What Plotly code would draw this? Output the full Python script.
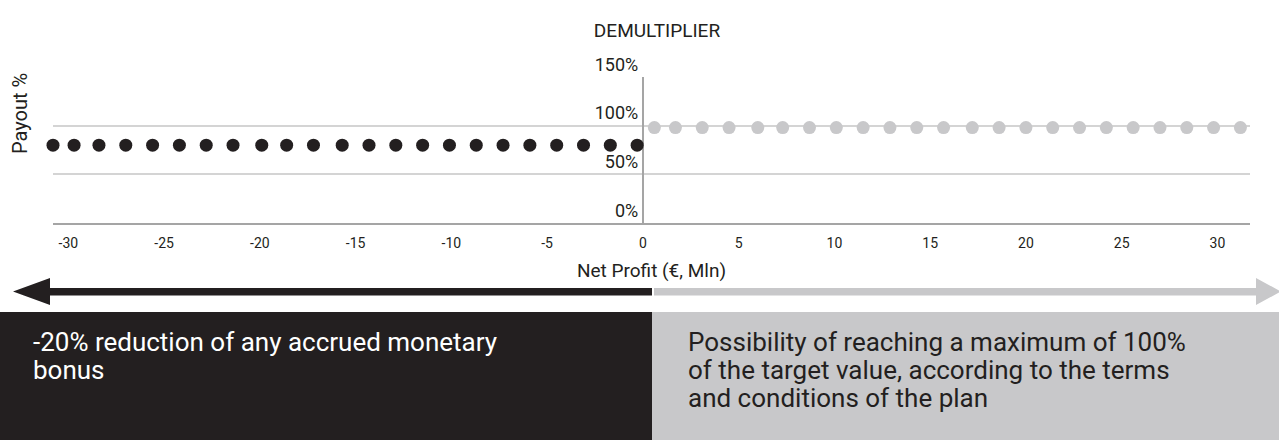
import plotly.graph_objects as go

# ---- data ----
neg_x = [-30.8, -29.7, -28.4, -27.0, -25.6, -24.2, -22.8, -21.4, -19.9, -18.6, -17.2, -15.7,
         -14.3, -12.9, -11.5, -10.1, -8.7, -7.3, -5.9, -4.5, -3.1, -1.7, -0.3]
neg_y = [80] * len(neg_x)
pos_x = [0.6, 1.7, 3.1, 4.5, 6.0, 7.3, 8.7, 10.1, 11.5, 12.9, 14.3, 15.7, 17.2, 18.6, 20.0,
         21.4, 22.8, 24.2, 25.6, 27.0, 28.4, 29.8, 31.2]
pos_y = [98] * len(pos_x)
x_ticks = [-30, -25, -20, -15, -10, -5, 0, 5, 10, 15, 20, 25, 30]
x_ticktext = ["-30", "-25", "-20", "-15", "-10", "-5", "0", "5", "10", "15", "20", "25", "30"]
y_ticks = [0, 50, 100, 150]
y_ticktext = ["0%", "50%", "100%", "150%"]
left_lines = ["-20% reduction of any accrued monetary", "bonus"]
right_lines = ["Possibility of reaching a maximum of 100%",
               "of the target value, according to the terms",
               "and conditions of the plan"]

DARK = "#231f20"
GREY = "#c8c8ca"
FONT = "Roboto"

W, H = 1279, 440
ML, MR, MT, MB = 53, 29, 77, 217
PW, PH = W - ML - MR, H - MT - MB
XR = [-30.8, 31.7]


def fx(px):
    return (px - ML) / PW


def fy(py):
    return (H - MB - py) / PH


fig = go.Figure()
fig.add_trace(go.Scatter(x=neg_x, y=neg_y, mode="markers",
                         marker=dict(size=13, color=DARK, line=dict(width=0)),
                         cliponaxis=False, showlegend=False))
fig.add_trace(go.Scatter(x=pos_x, y=pos_y, mode="markers",
                         marker=dict(size=13, color=GREY, line=dict(width=0)),
                         cliponaxis=False, showlegend=False))

zero_pos = (0 - XR[0]) / (XR[1] - XR[0])

fig.update_layout(
    width=W, height=H,
    margin=dict(l=ML, r=MR, t=MT, b=MB),
    paper_bgcolor="white", plot_bgcolor="white",
    font=dict(family=FONT, color=DARK),
    title=dict(text="DEMULTIPLIER", x=fx(657), xref="paper", xanchor="center",
               y=1 - 30 / H, yref="container", yanchor="middle",
               font=dict(family=FONT, size=19, color=DARK)),
    xaxis=dict(range=XR, tickvals=x_ticks, ticktext=x_ticktext, showgrid=False, zeroline=False,
               showline=True, linecolor="#a5a5a5", linewidth=2, ticks="",
               tickfont=dict(size=14, color=DARK), ticklabelstandoff=6,
               layer="below traces",
               title=dict(text="Net Profit (€, Mln)", standoff=14,
                          font=dict(size=19, color=DARK))),
    yaxis=dict(range=[0, 150], tickvals=y_ticks, ticktext=y_ticktext,
               anchor="free", position=zero_pos, showgrid=True,
               gridcolor="#d4d4d4", gridwidth=2, zeroline=False,
               showline=True, linecolor="#a5a5a5", linewidth=2, ticks="",
               ticklabelposition="outside top", layer="below traces",
               tickfont=dict(size=18, color=DARK)),
)

shapes = []
# boxes
shapes.append(dict(type="rect", xref="paper", yref="paper", x0=fx(-1), x1=fx(652),
                   y0=fy(312), y1=fy(441), fillcolor=DARK, line=dict(width=0)))
shapes.append(dict(type="rect", xref="paper", yref="paper", x0=fx(652), x1=fx(1280),
                   y0=fy(312), y1=fy(441), fillcolor=GREY, line=dict(width=0)))


def path(points):
    return "M " + " L ".join(f"{fx(a)},{fy(b)}" for a, b in points) + " Z"


# left arrow (black)
shapes.append(dict(type="path", xref="paper", yref="paper",
                   path=path([(652, 288), (50, 288), (50, 278), (13, 291.5), (50, 305),
                              (50, 295.5), (652, 295.5)]),
                   fillcolor=DARK, line=dict(width=0)))
# right arrow (grey)
shapes.append(dict(type="path", xref="paper", yref="paper",
                   path=path([(654, 288), (1256, 288), (1256, 278), (1281, 291.5),
                              (1256, 305), (1256, 295.5), (654, 295.5)]),
                   fillcolor=GREY, line=dict(width=0)))
fig.update_layout(shapes=shapes)

annotations = [dict(text="Payout %", xref="paper", yref="paper", x=fx(20), y=fy(114),
                    textangle=-90, showarrow=False, xanchor="center", yanchor="middle",
                    font=dict(size=20, color=DARK))]
for i, t in enumerate(left_lines):
    annotations.append(dict(text=t, xref="paper", yref="paper", x=fx(31), y=fy(342 + 28 * i),
                            showarrow=False, xanchor="left", yanchor="middle",
                            font=dict(size=26, color="white")))
for i, t in enumerate(right_lines):
    annotations.append(dict(text=t, xref="paper", yref="paper", x=fx(686), y=fy(342 + 28 * i),
                            showarrow=False, xanchor="left", yanchor="middle",
                            font=dict(size=26, color=DARK)))
fig.update_layout(annotations=annotations)

fig.write_html("out.html", config={"displayModeBar": False},
               post_script="document.body.style.margin='0';")
